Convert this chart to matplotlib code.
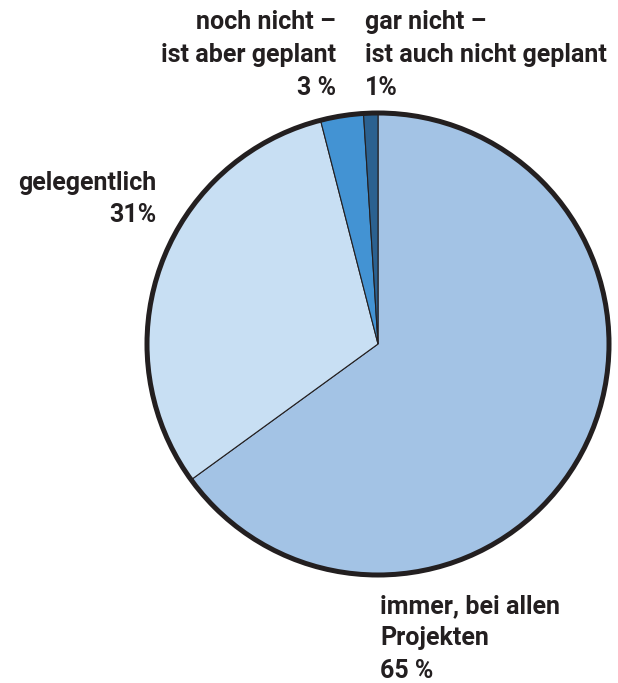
import matplotlib
matplotlib.use("Agg")
import matplotlib.pyplot as plt
from matplotlib.patches import Circle

# Data
categories = ["immer, bei allen Projekten", "gelegentlich",
              "noch nicht – ist aber geplant", "gar nicht – ist auch nicht geplant"]
values = [65, 31, 3, 1]
colors = ["#a3c3e5", "#c8dff3", "#4393d3", "#2b6190"]
label_lines = [
    ["immer, bei allen", "Projekten", "65 %"],
    ["gelegentlich", "31%"],
    ["noch nicht –", "ist aber geplant", "3 %"],
    ["gar nicht –", "ist auch nicht geplant", "1%"],
]

W, H = 618, 683
fig = plt.figure(figsize=(W / 100, H / 100), dpi=100)
ax = fig.add_axes([0, 0, 1, 1])

cx, cy, r = 378, H - 344, 231
ink = "#231f20"
ax.pie(values, colors=colors, startangle=90, counterclock=False,
       center=(cx, cy), radius=r, frame=True,
       wedgeprops=dict(edgecolor=ink, linewidth=0.8))
ax.set_xlim(0, W)
ax.set_ylim(0, H)
ax.set_aspect("equal")
ax.axis("off")
ax.add_patch(Circle((cx, cy), r, fill=False, edgecolor=ink, linewidth=3.6, zorder=5))

font = dict(family=["Roboto", "DejaVu Sans"], fontsize=18, fontweight="bold", color=ink)
# label anchors (x, first line y from top, alignment, line step)
anchors = [(380, 606, "left", 32.5), (156, 183, "right", 32),
           (336, 22, "right", 33), (365, 22, "left", 33)]
for lines, (x, y0, ha, step) in zip(label_lines, anchors):
    for i, line in enumerate(lines):
        ax.text(x, H - (y0 + i * step), line, ha=ha, va="center", **font)

fig.savefig("out.png", dpi=100)
